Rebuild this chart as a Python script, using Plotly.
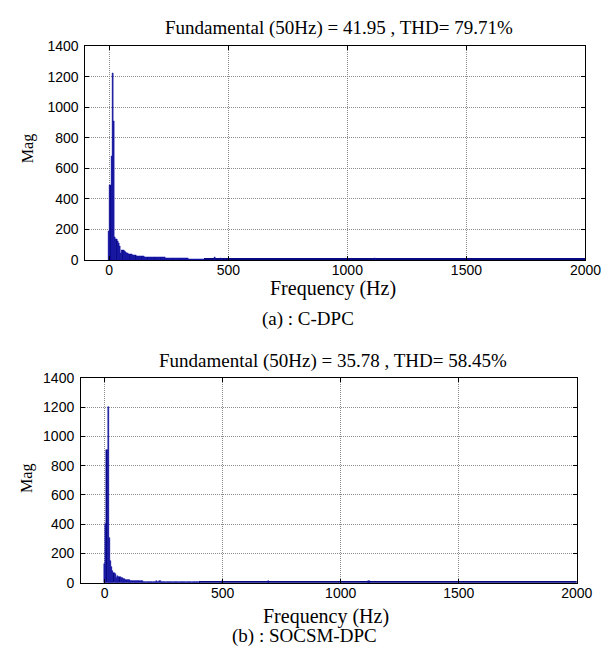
import plotly.graph_objects as go

W, H = 612, 654

# ---------------- data ----------------
# 5 Hz bins from 0 to 400 Hz
freq_low = list(range(0, 405, 5))

# (a) C-DPC
mag_a_low = [190, 490, 680, 1220, 910, 150, 133, 120, 109, 90,
             42, 64, 60, 55, 48, 45, 42, 38, 36, 34,
             32, 30, 28, 26, 24, 22, 22, 21, 21, 21,
             20, 20, 19, 19, 18, 18, 18, 17, 17, 17,
             16, 16, 16, 17, 17, 15, 15, 15, 14, 14,
             14, 14, 13, 13, 13, 13, 13, 12, 12, 12,
             12, 12, 11, 11, 11, 11, 8, 7, 7, 6,
             6, 6, 6, 5, 5, 5, 5, 5, 5, 5, 5]

# (b) SOCSM-DPC
mag_b_low = [130, 400, 910, 1200, 310, 150, 107, 84, 70, 60,
             36, 48, 42, 38, 34, 30, 27, 24, 22, 20,
             18, 17, 16, 15, 14, 13, 12, 12, 11, 11,
             10, 10, 10, 9, 9, 9, 9, 8, 8, 8,
             8, 8, 8, 9, 15, 8, 8, 12, 8, 7,
             7, 7, 6, 7, 7, 6, 7, 7, 6, 7,
             7, 6, 7, 7, 6, 7, 7, 6, 7, 7,
             6, 7, 7, 6, 7, 7, 6, 7, 7, 6, 7]

# 50 Hz-wide bins from 400 to 2000 Hz (low-level floor)
freq_tail = list(range(425, 2000, 50))
mag_a_tail = [8, 9, 8, 8, 7, 8, 9, 8, 8, 8, 9, 8, 7, 8, 8, 8,
              8, 7, 8, 8, 8, 7, 8, 8, 8, 7, 8, 8, 7, 8, 8, 7]
mag_b_tail = [7, 7, 6, 7, 7, 7, 6, 7, 7, 7, 6, 7, 7, 7, 6, 7,
              7, 6, 7, 7, 7, 6, 7, 7, 6, 7, 7, 6, 7, 7, 6, 7]

# isolated small components
spike_a_freq = [445, 470, 1115]
spike_a_mag = [15, 14, 14]
spike_b_freq = [500, 695, 1120]
spike_b_mag = [10, 11, 10]

titles = ["Fundamental (50Hz) = 41.95 , THD= 79.71%",
          "Fundamental (50Hz) = 35.78 , THD= 58.45%"]
captions = ["(a) : C-DPC", "(b) : SOCSM-DPC"]
x_ticks = [0, 500, 1000, 1500, 2000]
y_ticks = [0, 200, 400, 600, 800, 1000, 1200, 1400]

# ---------------- figure ----------------
FILL = "#08087f"
EDGE = "#1414b4"

fig = go.Figure()

def px_x(p):
    return p / W

def px_y(p):
    return 1 - p / H

panels = [
    dict(xd=(79.5, 593), yd=(31, 250), low=mag_a_low, tail=mag_a_tail,
         sf=spike_a_freq, sm=spike_a_mag, title_y=12.5, xl=(334, 279),
         cap=(308, 311), mag_y=136),
    dict(xd=(75, 584), yd=(371, 581), low=mag_b_low, tail=mag_b_tail,
         sf=spike_b_freq, sm=spike_b_mag, title_y=353.5, xl=(327, 616),
         cap=(304, 636), mag_y=474),
]

for i, p in enumerate(panels):
    xa = "x" if i == 0 else "x2"
    ya = "y" if i == 0 else "y2"
    for xs, ys, w, lw in [(freq_low, p["low"], 5, 0.5), (freq_tail, p["tail"], 50, 0),
                          (p["sf"], p["sm"], 5, 0.5)]:
        fig.add_trace(go.Bar(x=xs, y=ys, width=w, xaxis=xa, yaxis=ya,
                             marker=dict(color=FILL, line=dict(color=EDGE, width=lw)),
                             showlegend=False, hoverinfo="x+y"))

    axis_common = dict(showline=True, linecolor="black", linewidth=1, mirror="ticks",
                       ticks="inside", ticklen=4, tickcolor="black",
                       showgrid=True, gridcolor="#8c8c8c", griddash="1px,1px", gridwidth=1,
                       zeroline=False,
                       tickfont=dict(family="Liberation Sans, Arial", size=14, color="black"))
    xkey = "xaxis" if i == 0 else "xaxis2"
    ykey = "yaxis" if i == 0 else "yaxis2"
    fig.update_layout({
        xkey: dict(axis_common, domain=[px_x(p["xd"][0]), px_x(p["xd"][1])],
                   range=[-100, 2000], tickvals=x_ticks, anchor=ya,
                   ticklabelstandoff=-3),
        ykey: dict(axis_common, domain=[px_y(p["yd"][1]), px_y(p["yd"][0])],
                   range=[0, 1400], tickvals=y_ticks, anchor=xa,
                   ticklabelstandoff=3),
    })

    serif = "Liberation Serif, Times New Roman"
    cx = (p["xd"][0] + p["xd"][1]) / 2
    fig.add_annotation(text=titles[i], x=px_x(cx + 4), y=px_y(p["title_y"]),
                       xref="paper", yref="paper", showarrow=False,
                       xanchor="center", yanchor="middle",
                       font=dict(family=serif, size=19, color="black"))
    fig.add_annotation(text="Frequency (Hz)", x=px_x(p["xl"][0]), y=px_y(p["xl"][1]),
                       xref="paper", yref="paper", showarrow=False,
                       xanchor="center", yanchor="middle",
                       font=dict(family=serif, size=20, color="black"))
    fig.add_annotation(text=captions[i], x=px_x(p["cap"][0]), y=px_y(p["cap"][1]),
                       xref="paper", yref="paper", showarrow=False,
                       xanchor="center", yanchor="middle",
                       font=dict(family=serif, size=19, color="black"))
    fig.add_annotation(text="Mag", x=px_x(20), y=px_y(p["mag_y"]),
                       xref="paper", yref="paper", showarrow=False, textangle=-90,
                       xanchor="center", yanchor="middle",
                       font=dict(family=serif, size=16, color="black"))

fig.update_layout(width=W, height=H, margin=dict(l=0, r=0, t=0, b=0),
                  paper_bgcolor="white", plot_bgcolor="white",
                  barmode="overlay", bargap=0)

fig.write_html("out.html")
